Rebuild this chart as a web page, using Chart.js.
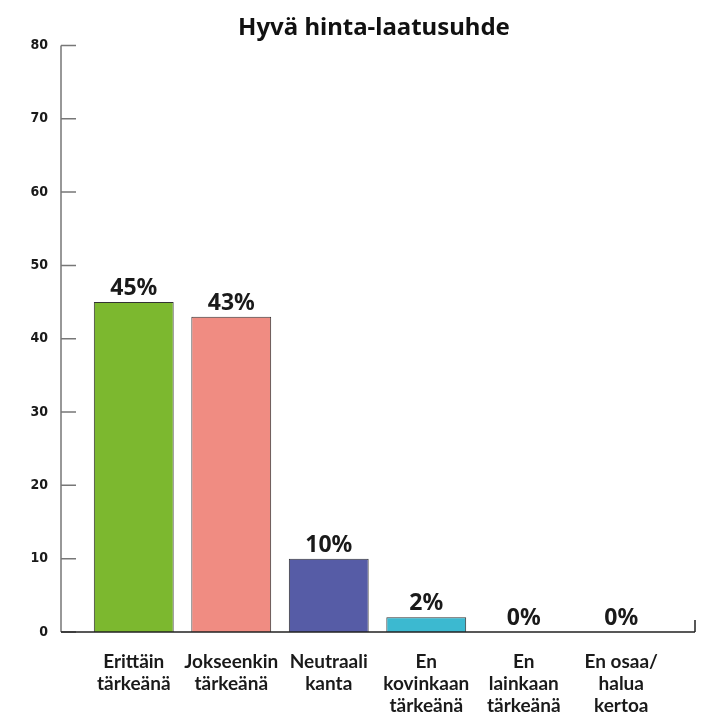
<!DOCTYPE html>
<html>
<head>
<meta charset="utf-8">
<script src="https://cdn.jsdelivr.net/npm/chart.js@4/dist/chart.umd.min.js"></script>
<style>
  body { margin: 0; background: #fff; }
  #wrap { width: 706px; height: 714px; position: relative; }
</style>
</head>
<body>
<div id="wrap"><canvas id="chart"></canvas></div>
<script>
// Data
const chartTitle = 'Hyvä hinta-laatusuhde';
const categories = [
  ['Erittäin', 'tärkeänä'],
  ['Jokseenkin', 'tärkeänä'],
  ['Neutraali', 'kanta'],
  ['En', 'kovinkaan', 'tärkeänä'],
  ['En', 'lainkaan', 'tärkeänä'],
  ['En osaa/', 'halua', 'kertoa']
];
const values = [45, 43, 10, 2, 0, 0];
const yTicks = [0, 10, 20, 30, 40, 50, 60, 70, 80];

const barColors = ['#7cb82f', '#f08c82', '#565ca6', '#3cb9d0', '#3cb9d0', '#3cb9d0'];
const barBorder = '#333';
const axisColor = '#777';

// Title drawn over the whole canvas width (chart area is shifted right)
const titleText = {
  id: 'titleText',
  afterDraw(chart) {
    const { ctx } = chart;
    ctx.save();
    ctx.font = 'bold 24px "Noto Sans", sans-serif';
    ctx.fillStyle = '#111';
    ctx.textAlign = 'center';
    ctx.textBaseline = 'middle';
    ctx.fillText(chartTitle, 374, 28);
    ctx.restore();
  }
};

// Axis lines like the original (ticks pointing inward)
const axisLines = {
  id: 'axisLines',
  afterDatasetsDraw(chart) {
    const { ctx, scales: { y } } = chart;
    const axisX = 61;
    const y0 = y.getPixelForValue(0);
    ctx.save();
    ctx.strokeStyle = axisColor;
    ctx.lineWidth = 1.5;
    ctx.beginPath();
    ctx.moveTo(axisX, y.getPixelForValue(yTicks[yTicks.length - 1]));
    ctx.lineTo(axisX, y0);
    yTicks.forEach(t => {
      const py = y.getPixelForValue(t);
      ctx.moveTo(axisX, py);
      ctx.lineTo(axisX + 15, py);
    });
    ctx.stroke();
    ctx.strokeStyle = '#222';
    ctx.beginPath();
    ctx.moveTo(axisX, y0);
    ctx.lineTo(695, y0);
    ctx.moveTo(695, y0);
    ctx.lineTo(695, y0 - 12);
    ctx.stroke();
    ctx.restore();
  }
};

// Percent labels above the bars
const valueLabels = {
  id: 'valueLabels',
  afterDatasetsDraw(chart) {
    const { ctx } = chart;
    const meta = chart.getDatasetMeta(0);
    ctx.save();
    ctx.font = 'bold 23px "Noto Sans", sans-serif';
    ctx.fillStyle = '#1a1a1a';
    ctx.textAlign = 'center';
    ctx.textBaseline = 'bottom';
    meta.data.forEach((bar, i) => {
      ctx.fillText(values[i] + '%', bar.x, bar.y - 2);
    });
    ctx.restore();
  }
};

new Chart(document.getElementById('chart'), {
  type: 'bar',
  data: {
    labels: categories,
    datasets: [{
      data: values,
      backgroundColor: barColors,
      borderColor: barBorder,
      borderWidth: 1,
      barPercentage: 0.9,
      categoryPercentage: 0.91
    }]
  },
  options: {
    responsive: true,
    maintainAspectRatio: false,
    animation: false,
    layout: { padding: { left: 0, right: 36, top: 44, bottom: 0 } },
    plugins: {
      legend: { display: false },
      tooltip: { enabled: false },
      title: { display: false }
    },
    scales: {
      x: {
        grid: { display: false, drawTicks: false },
        border: { display: false },
        ticks: {
          color: '#1a1a1a',
          padding: 19,
          maxRotation: 0,
          autoSkip: false,
          font: { family: 'Lato, sans-serif', size: 19, weight: 'bold', lineHeight: '22px' }
        },
        afterFit(scale) { scale.height = 82; }
      },
      y: {
        min: 0,
        max: 80,
        grid: { display: false, drawTicks: false },
        border: { display: false },
        afterBuildTicks(scale) { scale.ticks = yTicks.map(v => ({ value: v })); },
        ticks: {
          color: '#1a1a1a',
          padding: 37,
          font: { family: '"DejaVu Sans Condensed", "DejaVu Sans", sans-serif', size: 14, weight: 'bold' }
        },
        afterFit(scale) { scale.width = 85; }
      }
    }
  },
  plugins: [axisLines, valueLabels, titleText]
});
</script>
</body>
</html>
